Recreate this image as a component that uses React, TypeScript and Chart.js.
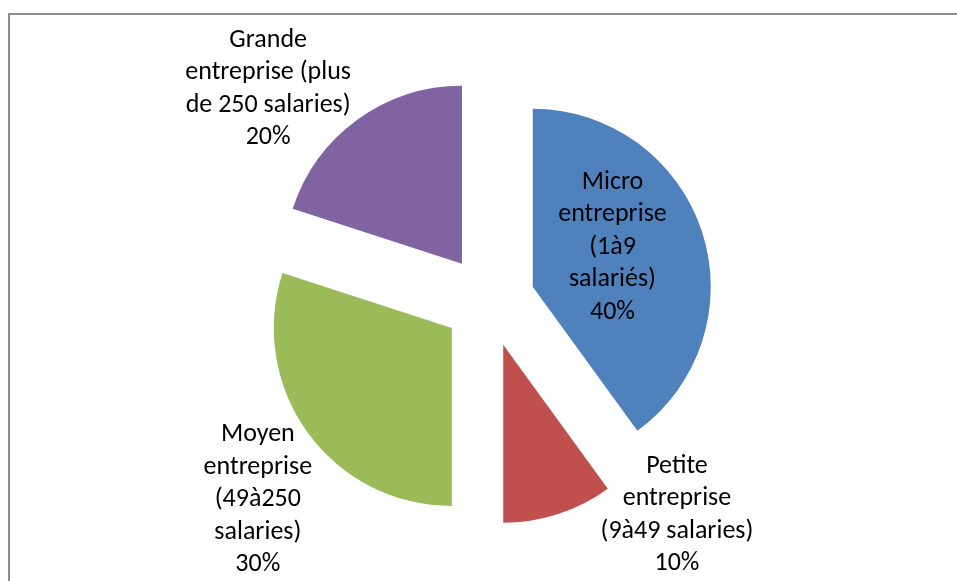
import React, { useEffect, useRef } from "react";
import { Chart, registerables } from "chart.js";

Chart.register(...registerables);

// ---- Data ----
const categories = [
  "Micro entreprise (1à9 salariés)",
  "Petite entreprise (9à49 salaries)",
  "Moyen entreprise (49à250 salaries)",
  "Grande entreprise (plus de 250 salaries)",
];
const labelLines = [
  ["Micro", "entreprise", "(1à9", "salariés)"],
  ["Petite", "entreprise", "(9à49 salaries)"],
  ["Moyen", "entreprise", "(49à250", "salaries)"],
  ["Grande", "entreprise (plus", "de 250 salaries)"],
];
const values = [40, 10, 30, 20];
const colors = ["#4F81BD", "#C0504D", "#9BBB59", "#8064A2"];

// ---- Layout / style ----
const EXPLODE = 46; // px each slice is pulled out along its mid-angle
const RADIUS = 178;
// label anchor: angle (deg, clockwise from top) and distance in radius units from pie centre
const labelAnchors = [
  { angle: 66.4, dist: 0.757 },
  { angle: 138.7, dist: 1.6 },
  { angle: 229.3, dist: 1.713 },
  { angle: 313.8, dist: 1.719 },
];
const FONT = "26px Carlito, Calibri, Lato, sans-serif";
const LINE_H = 32.5;

export default function App() {
  const ref = useRef<HTMLCanvasElement | null>(null);

  useEffect(() => {
    if (!ref.current) return;
    const total = values.reduce((a, b) => a + b, 0);

    const framePlugin = {
      id: "frame",
      beforeDraw(chart: any) {
        const ctx = chart.ctx;
        ctx.save();
        ctx.strokeStyle = "#8E8E8E";
        ctx.lineWidth = 2;
        ctx.beginPath();
        ctx.moveTo(9, chart.height);
        ctx.lineTo(9, 14);
        ctx.lineTo(chart.width, 14);
        ctx.stroke();
        ctx.restore();
      },
    };

    const explodePlugin = {
      id: "explode",
      afterDatasetsUpdate(chart: any) {
        const meta = chart.getDatasetMeta(0);
        meta.data.forEach((arc: any) => {
          const mid = (arc.startAngle + arc.endAngle) / 2;
          arc.x += Math.cos(mid) * EXPLODE;
          arc.y += Math.sin(mid) * EXPLODE;
        });
      },
    };

    const labelPlugin = {
      id: "sliceLabels",
      afterDatasetsDraw(chart: any) {
        const area = chart.chartArea;
        const cx = (area.left + area.right) / 2;
        const cy = (area.top + area.bottom) / 2;
        const R = chart.getDatasetMeta(0).data[0].outerRadius;
        const ctx = chart.ctx;
        ctx.save();
        ctx.font = FONT;
        ctx.fillStyle = "#000000";
        ctx.textAlign = "center";
        ctx.textBaseline = "middle";
        labelLines.forEach((lines, i) => {
          const a = (labelAnchors[i].angle * Math.PI) / 180;
          const d = labelAnchors[i].dist * R;
          const px = cx + Math.sin(a) * d;
          const py = cy - Math.cos(a) * d;
          const all = [...lines, Math.round((values[i] / total) * 100) + "%"];
          const y0 = py - ((all.length - 1) * LINE_H) / 2;
          all.forEach((t, j) => ctx.fillText(t, px, y0 + j * LINE_H));
        });
        ctx.restore();
      },
    };

    const chart = new Chart(ref.current, {
      type: "pie",
      data: {
        labels: categories,
        datasets: [
          {
            data: values,
            backgroundColor: colors,
            borderWidth: 0,
            offset: 0,
            hoverOffset: 0,
          },
        ],
      },
      options: {
        animation: false,
        responsive: true,
        maintainAspectRatio: false,
        devicePixelRatio: 1,
        radius: RADIUS,
        layout: { padding: { left: 21, top: 21, right: 0, bottom: 0 } },
        plugins: {
          legend: { display: false },
          tooltip: { enabled: false },
        },
      },
      plugins: [framePlugin, explodePlugin, labelPlugin],
    });
    return () => chart.destroy();
  }, []);

  return (
    <div style={{ position: "absolute", left: 0, top: 0, width: 957, height: 581, background: "#fff" }}>
      <canvas ref={ref} />
    </div>
  );
}
